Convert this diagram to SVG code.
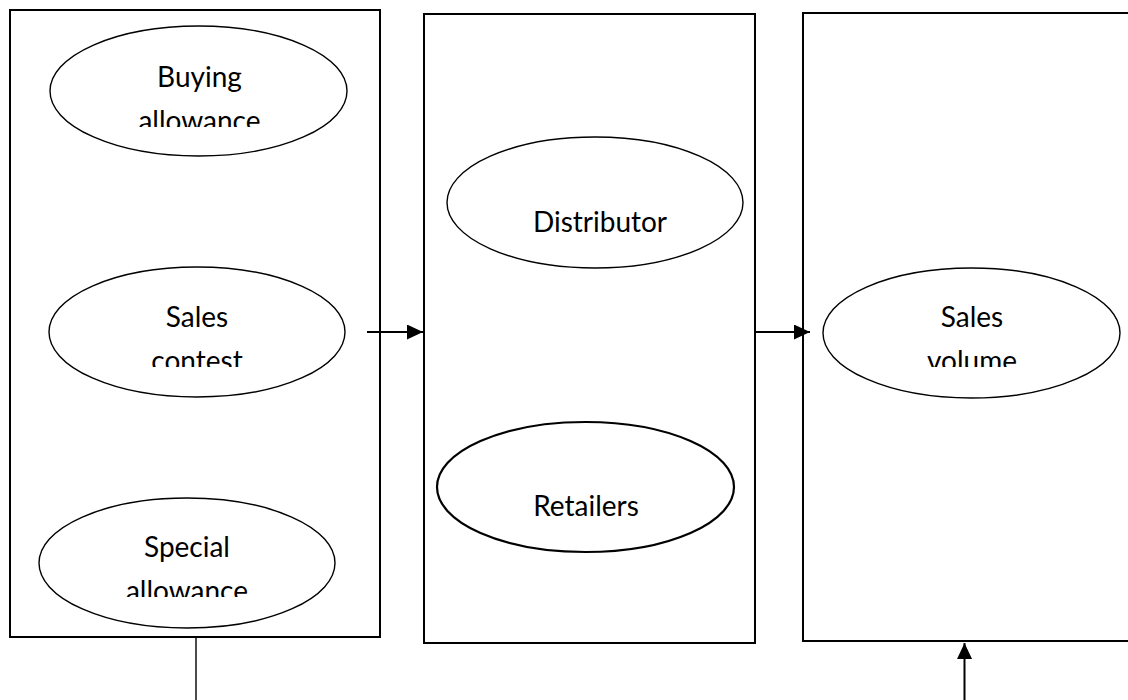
<svg xmlns="http://www.w3.org/2000/svg" width="1128" height="700" viewBox="0 0 1128 700">
<style>
.box{fill:#fff;stroke:#000;stroke-width:2}
.ell{fill:#fff;stroke:#000;stroke-width:1.4}
.ell2{fill:#fff;stroke:#000;stroke-width:2.2}
.lbl{font-family:Lato,"Open Sans","Liberation Sans",sans-serif;font-size:28px;fill:#000;text-anchor:middle}
.con{fill:none;stroke:#000;stroke-width:2}
</style>
<defs>
<marker id="ah" markerUnits="userSpaceOnUse" markerWidth="16" markerHeight="15" refX="16" refY="7.5" orient="auto">
<path d="M0,0 L16,7.5 L0,15 Z" fill="#000"/>
</marker>
<clipPath id="c1"><rect x="0" y="0" width="400" height="127"/></clipPath>
<clipPath id="c2"><rect x="0" y="200" width="400" height="167"/></clipPath>
<clipPath id="c3"><rect x="0" y="450" width="400" height="147"/></clipPath>
<clipPath id="c6"><rect x="780" y="200" width="348" height="167"/></clipPath>
</defs>
<g id="promotions">
<rect class="box" x="10" y="10" width="370" height="627"/>
</g>
<g id="channels">
<rect class="box" x="424" y="14" width="331" height="629"/>
</g>
<g id="outcome">
<rect class="box" x="803" y="13" width="330" height="628"/>
</g>
<g id="buying-allowance">
<ellipse class="ell" cx="198.5" cy="91" rx="148.5" ry="65"/>
<text class="lbl" x="199.5" y="87">Buying</text>
<text class="lbl" x="199.5" y="131" clip-path="url(#c1)">allowance</text>
</g>
<g id="sales-contest">
<ellipse class="ell" cx="197" cy="332" rx="148" ry="65"/>
<text class="lbl" x="197" y="327">Sales</text>
<text class="lbl" x="197" y="371" clip-path="url(#c2)">contest</text>
</g>
<g id="special-allowance">
<ellipse class="ell" cx="187" cy="563" rx="148" ry="65"/>
<text class="lbl" x="187" y="557">Special</text>
<text class="lbl" x="187" y="601" clip-path="url(#c3)">allowance</text>
</g>
<g id="distributor">
<ellipse class="ell" cx="595" cy="202.5" rx="148" ry="65.5"/>
<text class="lbl" x="600" y="232">Distributor</text>
</g>
<g id="retailers">
<ellipse class="ell2" cx="585.5" cy="487" rx="148.5" ry="65"/>
<text class="lbl" x="586" y="516">Retailers</text>
</g>
<g id="sales-volume">
<ellipse class="ell" cx="971.5" cy="333" rx="148.5" ry="65"/>
<text class="lbl" x="972" y="327">Sales</text>
<text class="lbl" x="972" y="371" clip-path="url(#c6)">volume</text>
</g>
<g id="connectors">
<line class="con" x1="367" y1="332" x2="423" y2="332" marker-end="url(#ah)"/>
<line class="con" x1="755" y1="332" x2="810" y2="332" marker-end="url(#ah)"/>
<line class="con" x1="964.5" y1="700" x2="964.5" y2="643" marker-end="url(#ah)"/>
<line x1="196" y1="637" x2="196" y2="700" stroke="#000" stroke-width="1.4"/>
</g>
</svg>
